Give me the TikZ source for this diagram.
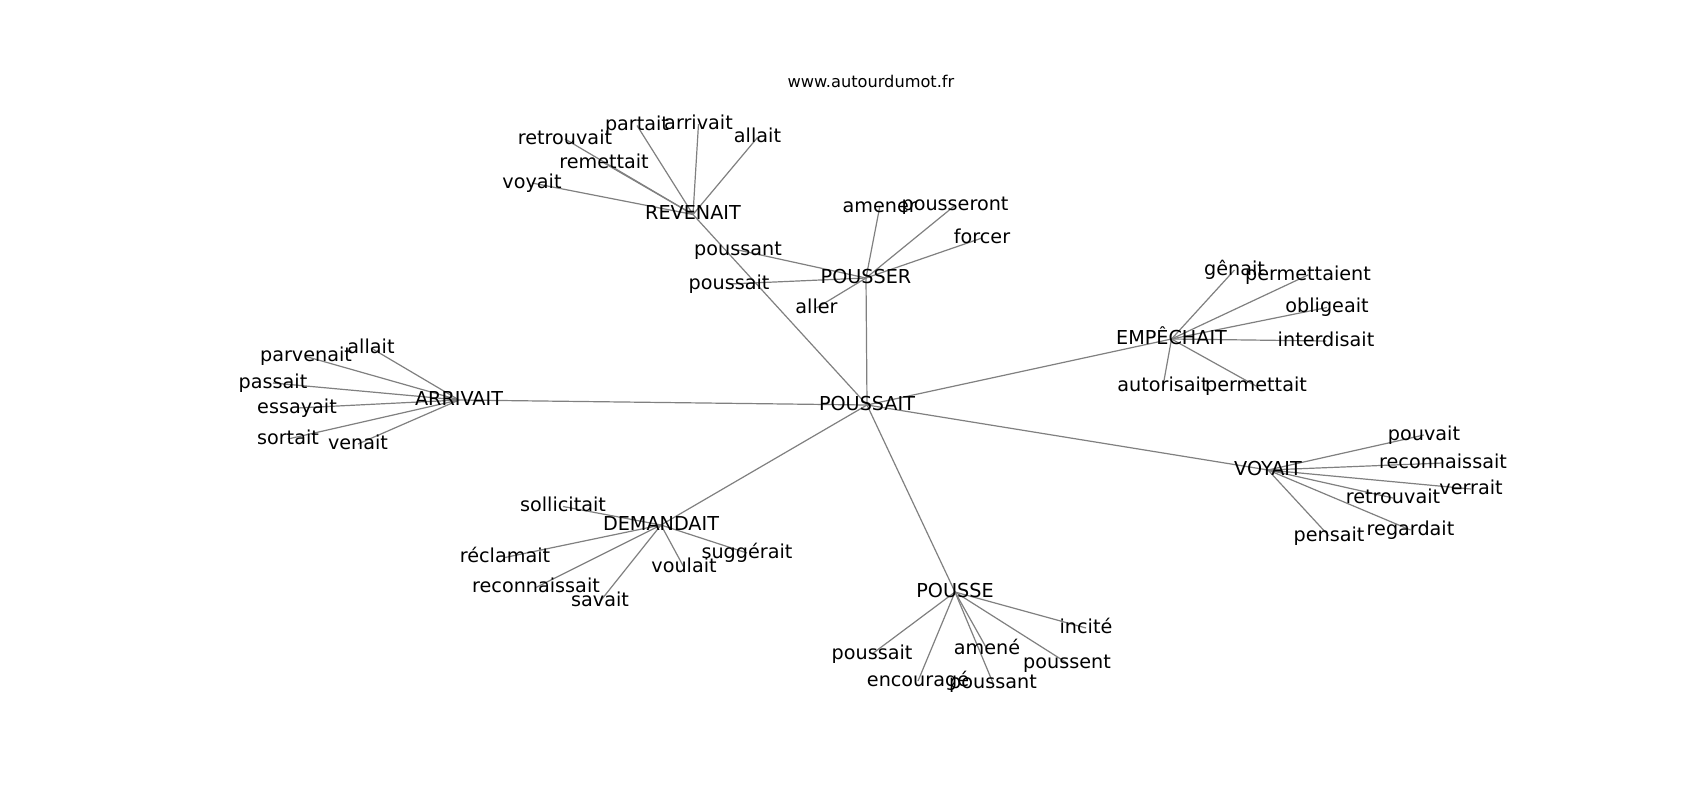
\documentclass[tikz,border=0pt]{standalone}
\usepackage{fontspec}
\setmainfont{DejaVu Sans}
\usetikzlibrary{backgrounds}
\newcommand\lblfont{\fontsize{19.2bp}{23bp}\selectfont}
\newcommand\ttlfont{\fontsize{16.2bp}{19bp}\selectfont}
\begin{document}
\begin{tikzpicture}[x=1bp,y=-1bp,
  lbl/.style={font=\lblfont, inner sep=0pt, text height=14.6bp, text depth=4bp},
  ttl/.style={font=\ttlfont, inner sep=0pt, anchor=base},
  edge/.style={draw=gray, line width=1.2bp}]
\useasboundingbox (0,0) rectangle (1700,800);
\node[ttl] (title) at (871,87.7) {www.autourdumot.fr};
% hubs
\node[lbl] (c) at (867,405) {POUSSAIT};
\node[lbl] (h1) at (866,278) {POUSSER};
\node[lbl] (h2) at (693,214.5) {REVENAIT};
\node[lbl] (h3) at (459,400) {ARRIVAIT};
\node[lbl] (h4) at (1171.5,339) {EMPÊCHAIT};
\node[lbl] (h5) at (1268,470) {VOYAIT};
\node[lbl] (h6) at (661,525) {DEMANDAIT};
\node[lbl] (h7) at (955,592) {POUSSE};
% POUSSER
\node[lbl] (a1) at (879.7,207) {amener};
\node[lbl] (a2) at (955,205.4) {pousseront};
\node[lbl] (a3) at (982,238) {forcer};
\node[lbl] (a4) at (738,250) {poussant};
\node[lbl] (a5) at (729,284) {poussait};
\node[lbl] (a6) at (816.5,308) {aller};
% REVENAIT
\node[lbl] (b1) at (532,183) {voyait};
\node[lbl] (b2) at (565,139) {retrouvait};
\node[lbl] (b3) at (604,163) {remettait};
\node[lbl] (b4) at (637,125.5) {partait};
\node[lbl] (b5) at (698.5,124) {arrivait};
\node[lbl] (b6) at (757.5,137.5) {allait};
% ARRIVAIT
\node[lbl] (c1) at (371,348) {allait};
\node[lbl] (c2) at (306,356.5) {parvenait};
\node[lbl] (c3) at (273,383) {passait};
\node[lbl] (c4) at (297,408) {essayait};
\node[lbl] (c5) at (288,439) {sortait};
\node[lbl] (c6) at (358,444) {venait};
% EMPECHAIT
\node[lbl] (d1) at (1234.5,270) {gênait};
\node[lbl] (d2) at (1308,275) {permettaient};
\node[lbl] (d3) at (1327,307.5) {obligeait};
\node[lbl] (d4) at (1326,341) {interdisait};
\node[lbl] (d5) at (1163,386) {autorisait};
\node[lbl] (d6) at (1256,386) {permettait};
% VOYAIT
\node[lbl] (e1) at (1424,435) {pouvait};
\node[lbl] (e2) at (1443,463) {reconnaissait};
\node[lbl] (e3) at (1471,489) {verrait};
\node[lbl] (e4) at (1393,498) {retrouvait};
\node[lbl] (e5) at (1410.5,530) {regardait};
\node[lbl] (e6) at (1329,536) {pensait};
% DEMANDAIT
\node[lbl] (f1) at (563,506.5) {sollicitait};
\node[lbl] (f2) at (505,557.5) {réclamait};
\node[lbl] (f3) at (536,587.5) {reconnaissait};
\node[lbl] (f4) at (600,601.5) {savait};
\node[lbl] (f5) at (684,567.5) {voulait};
\node[lbl] (f6) at (747,553) {suggérait};
% POUSSE
\node[lbl] (g1) at (1086,628) {incité};
\node[lbl] (g2) at (872,654) {poussait};
\node[lbl] (g3) at (987,649) {amené};
\node[lbl] (g4) at (1067,663) {poussent};
\node[lbl] (g5) at (918,681) {encouragé};
\node[lbl] (g6) at (993,683) {poussant};
\begin{scope}[on background layer]
\fill[white] (0,0) rectangle (1700,800);
\foreach \h in {h1,h2,h3,h4,h5,h6,h7} \draw[edge] (c.center) -- (\h.center);
\foreach \n in {a1,a2,a3,a4,a5,a6} \draw[edge] (h1.center) -- (\n.center);
\foreach \n in {b1,b2,b3,b4,b5,b6} \draw[edge] (h2.center) -- (\n.center);
\foreach \n in {c1,c2,c3,c4,c5,c6} \draw[edge] (h3.center) -- (\n.center);
\foreach \n in {d1,d2,d3,d4,d5,d6} \draw[edge] (h4.center) -- (\n.center);
\foreach \n in {e1,e2,e3,e4,e5,e6} \draw[edge] (h5.center) -- (\n.center);
\foreach \n in {f1,f2,f3,f4,f5,f6} \draw[edge] (h6.center) -- (\n.center);
\foreach \n in {g1,g2,g3,g4,g5,g6} \draw[edge] (h7.center) -- (\n.center);
\end{scope}
\end{tikzpicture}
\end{document}
